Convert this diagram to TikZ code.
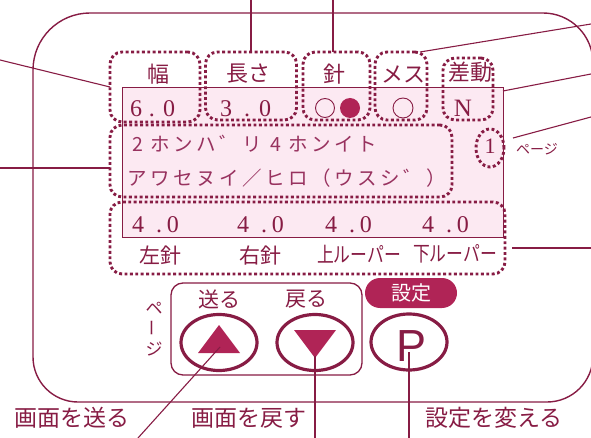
\documentclass[tikz,border=0pt]{standalone}
\usepackage{fontspec}
\usetikzlibrary{shapes.geometric}
\setmainfont{Liberation Serif}
\newfontfamily\jp{Noto Sans CJK JP}
\newfontfamily\psans{Liberation Sans}
\definecolor{mar}{RGB}{135,28,68}
\definecolor{crim}{RGB}{176,36,86}
\definecolor{lcdpink}{RGB}{252,233,242}
\definecolor{lcdtxt}{RGB}{152,50,95}
\newcommand\kc[1]{\makebox[23pt][c]{#1}}
\newcommand\fs[1]{\fontsize{#1}{#1}\selectfont}
\begin{document}
\begin{tikzpicture}[x=1pt,y=-1pt,
  every node/.style={inner sep=0pt, outer sep=0pt},
  cline/.style={draw=mar, line width=1.1pt},
  dotbox/.style={rectangle, draw=mar, line width=2.9pt, dash pattern=on 2.9pt off 2.5pt, rounded corners=12pt},
  head/.style={text=mar, font=\jp\fs{22}},
  val/.style={text=mar, font=\fs{24}, anchor=west},
  ktx/.style={text=lcdtxt, font=\jp\fs{19.5}, anchor=west},
  lbl/.style={text=mar, font=\jp\fs{21}},
  small/.style={text=mar, font=\jp\fs{17}},
  bigl/.style={text=mar, font=\jp\fs{23}},
  btn/.style={ellipse, draw=mar, line width=3.2pt, minimum width=76pt, minimum height=56pt},
]
\useasboundingbox (0,0) rectangle (591,438);

% outer frame
\draw[mar, line width=1.4pt] (33,220) [rounded corners=57pt] |- (300,13)
  [rounded corners=50pt] -| (593,220) [rounded corners=46pt] |- (300,402)
  [rounded corners=45pt] -| (33,220);

% LCD
\node[fill=lcdpink, draw=mar, line width=1pt, minimum width=381pt, minimum height=150pt] (lcd) at (312.5,163) {};

% dotted boxes
\node[dotbox, minimum width=90pt, minimum height=70pt] (wbox) at (155,87) {};
\node[dotbox, minimum width=91pt, minimum height=68pt] (lbox) at (251,86) {};
\node[dotbox, minimum width=67pt, minimum height=68pt] (nbox) at (336.5,86) {};
\node[dotbox, minimum width=52pt, minimum height=68pt] (mbox) at (401,86) {};
\node[dotbox, minimum width=50pt, minimum height=62pt] (sbox) at (468,89) {};
\node[dotbox, minimum width=342pt, minimum height=72pt] (tbox) at (281,161) {};
\node[dotbox, minimum width=395pt, minimum height=72pt] (bbox) at (307.5,238) {};
\node[ellipse, draw=mar, line width=2.9pt, dash pattern=on 2.9pt off 2.5pt, minimum width=28pt, minimum height=38pt] (pg) at (490,148) {};

% headers
\node[head] (hw) at (158,74) {幅};
\node[head] (hl) at (248,74) {長さ};
\node[head] (hn) at (334,74) {針};
\node[head] (hm) at (403,74) {メス};
\node[head] (hs) at (470,72) {差動};

% first row values
\node[val] (v1) at (130,108.5) {6\hspace{7pt}.\hspace{8pt}0};
\node[val] (v2) at (220,108.5) {3\hspace{12pt}.\hspace{9pt}0};
\draw[mar, line width=0.9pt] (325,108) circle[radius=9.5pt];
\fill[crim] (350,108) circle[radius=10pt];
\draw[mar, line width=0.9pt] (403,108) circle[radius=10pt];
\node[text=mar, font=\fs{25}] (vn) at (463,108) {N};
\node[text=mar, font=\fs{22}] (p1) at (490,146) {1};
\node[text=mar, font=\jp\fs{14}] (pgl) at (537,149) {ページ};

% katakana text
\node[ktx] (k1) at (126,144) {\kc{2}\kc{ホ}\kc{ン}\kc{ハ}\kc{゛}\kc{リ}\kc{4}\kc{ホ}\kc{ン}\kc{イ}\kc{ト}};
\node[ktx] (k2) at (126,178) {\kc{ア}\kc{ワ}\kc{セ}\kc{ヌ}\kc{イ}\kc{／}\kc{ヒ}\kc{ロ}\kc{（}\kc{ウ}\kc{ス}\kc{シ}\kc{゛}\kc{）}};

% second row values
\node[val] (r1) at (132,224.5) {4\hspace{12pt}.\hspace{5pt}0};
\node[val] (r2) at (237,224.5) {4\hspace{12pt}.\hspace{5pt}0};
\node[val] (r3) at (325,224.5) {4\hspace{12pt}.\hspace{5pt}0};
\node[val] (r4) at (422,224.5) {4\hspace{12pt}.\hspace{5pt}0};

% labels
\node[lbl] (l1) at (160,256) {左針};
\node[lbl] (l2) at (260,256) {右針};
\node[lbl, xscale=0.8] (l3) at (359,254) {上ルーパー};
\node[lbl, xscale=0.8] (l4) at (455,254) {下ルーパー};

% page buttons
\node[draw=mar, line width=1.3pt, rounded corners=12pt, minimum width=191pt, minimum height=92pt] (pbox) at (266.5,329) {};
\node[lbl] (tsend) at (219,299) {送る};
\node[lbl] (tback) at (306,299) {戻る};
\node[small] (pv1) at (154,308) {ペ};
\node[small, rotate=90] (pv2) at (155,328) {ー};
\node[small] (pv3) at (154,349) {ジ};
\node[btn] (up) at (219,342.5) {};
\node[btn] (dn) at (315,342.5) {};
\fill[crim] (219,325) -- (198,353) -- (240,353) -- cycle;
\fill[crim] (294,330) -- (336,330) -- (315,358) -- cycle;

% P button
\node[fill=crim, rounded corners=15pt, minimum width=92pt, minimum height=30pt, text=white, font=\jp\fs{20}] (set) at (411,293) {設定};
\node[btn] (pb) at (409,342) {};
\node[text=mar, font=\psans\fs{45}] (pl) at (412,346.5) {P};

% bottom texts
\node[bigl] (b1) at (72,418) {画面を送る};
\node[bigl] (b2) at (249,418) {画面を戻す};
\node[bigl] (b3) at (494,418) {設定を変える};

% callouts
\coordinate (e1) at (0,60);
\coordinate (e2) at (251,0);
\coordinate (e3) at (333,0);
\coordinate (e4) at (591,24);
\coordinate (e5) at (591,74);
\coordinate (e6) at (591,117);
\coordinate (e7) at (0,168);
\coordinate (e8) at (591,248);
\draw[cline] (e1) -- (wbox.west);
\draw[cline] (e2) -- (lbox.north);
\draw[cline] (e3) -- (nbox.north -| e3);
\draw[cline] (e4) -- ([xshift=-7pt]mbox.north east);
\draw[cline] (e5) -- ([yshift=-3pt]lcd.north east);
\path (pg.east) ++(9,-10) coordinate (g6);
\draw[cline] (e6) -- (g6);
\draw[cline] (e7) -- (tbox.west |- e7);
\path (bbox.east |- e8) ++(7,0) coordinate (g8);
\draw[cline] (e8) -- (g8);

\coordinate (upb) at (220,347);
\coordinate (f1) at (138,438);
\coordinate (dnb) at (315,356);
\coordinate (f2) at (315,438);
\coordinate (pbb) at (409,352);
\coordinate (f3) at (409,438);
\draw[cline] (upb) -- (f1);
\draw[cline] (dnb) -- (f2);
\draw[cline] (pbb) -- (f3);
\end{tikzpicture}
\end{document}
